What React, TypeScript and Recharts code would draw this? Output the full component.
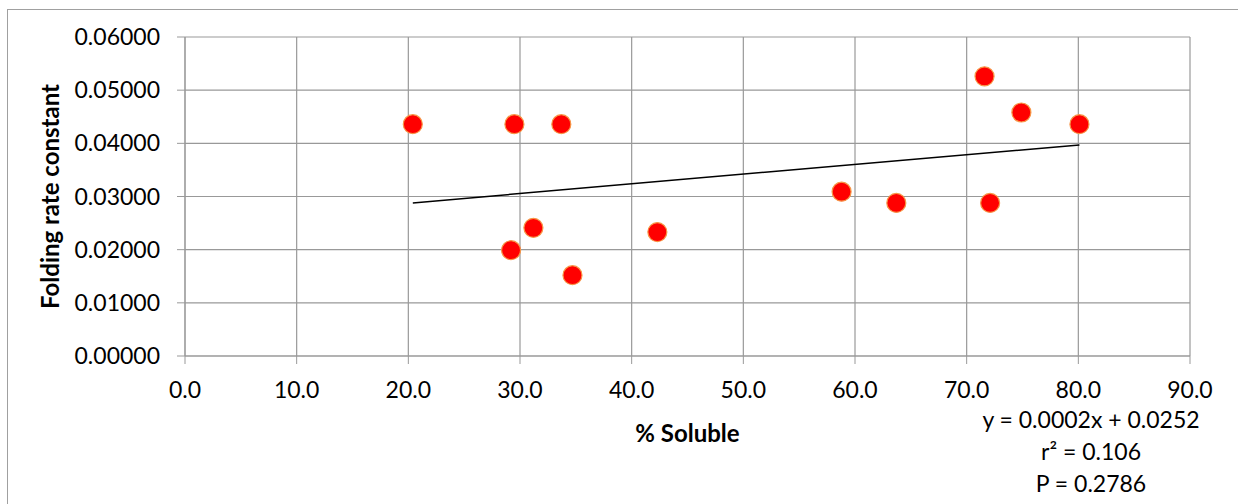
import { ScatterChart, Scatter, XAxis, YAxis, CartesianGrid } from 'recharts'

// measured samples: % soluble vs folding rate constant
const soluble = [20.4, 29.5, 33.7, 29.2, 31.2, 34.7, 42.3, 58.8, 63.7, 71.6, 72.1, 74.9, 80.1]
const foldingRate = [0.0436, 0.0436, 0.0436, 0.0199, 0.0241, 0.0152, 0.0233, 0.0309, 0.0288, 0.0526, 0.0288, 0.0458, 0.0436]

// linear fit drawn between the smallest and largest x
const trendX = [20.4, 80.1]
const trendY = [0.0288, 0.0397]

const xTicks = [0, 10, 20, 30, 40, 50, 60, 70, 80, 90]
const yTicks = [0, 0.01, 0.02, 0.03, 0.04, 0.05, 0.06]

const fitLines = ['y = 0.0002x + 0.0252', 'r² = 0.106', 'P = 0.2786']

const FONT = 'Lato, "Open Sans", sans-serif'
const GRID = '#999999'

const points = soluble.map((x, i) => ({ x, y: foldingRate[i] }))
const trend = trendX.map((x, i) => ({ x, y: trendY[i] }))

const Dot = (props: any) => {
  const { cx, cy } = props
  if (cx == null || cy == null) return <g />
  return <circle cx={cx} cy={cy} r={9.5} fill="#ff0000" stroke="#f79646" strokeWidth={1.2} />
}

export default function App() {
  const tick = { fontSize: 23, fill: '#000', fontFamily: FONT }
  return (
    <div style={{ position: 'absolute', left: 0, top: 0, width: 1238, height: 504, background: '#fff', overflow: 'hidden' }}>
      <div style={{ position: 'absolute', left: 7, top: 9, width: 1300, height: 600, borderLeft: '1px solid #a0a0a0', borderTop: '1px solid #a0a0a0' }} />
      <ScatterChart width={1238} height={504} margin={{ top: 37, right: 48, bottom: 0, left: 0 }} style={{ position: 'absolute', left: 0, top: 0, fontFamily: FONT }}>
        <CartesianGrid stroke={GRID} strokeWidth={1.2} />
        <XAxis
          type="number"
          dataKey="x"
          domain={[0, 90]}
          ticks={xTicks}
          interval={0}
          tickFormatter={(v: number) => v.toFixed(1)}
          tick={tick}
          tickSize={8}
          tickMargin={18}
          stroke={GRID}
          height={148}
          label={(p: any) => {
            const vb = p.viewBox
            return (
              <g>
                <text x={vb.x + vb.width / 2} y={442} textAnchor="middle" fontFamily={FONT} fontWeight="bold" fontSize={24} fill="#000">% Soluble</text>
                {fitLines.map((t, i) => (
                  <text key={t} x={1091} y={428 + i * 32} textAnchor="middle" fontFamily={FONT} fontSize={23} fill="#000">{t}</text>
                ))}
              </g>
            )
          }}
        />
        <YAxis
          type="number"
          dataKey="y"
          domain={[0, 0.06]}
          ticks={yTicks}
          interval={0}
          tickFormatter={(v: number) => v.toFixed(5)}
          tick={tick}
          tickSize={8}
          tickMargin={17}
          stroke={GRID}
          width={185}
          label={(p: any) => {
            const vb = p.viewBox
            const cy = vb.y + vb.height / 2
            return (
              <text x={49} y={cy} transform={`rotate(-90 49 ${cy})`} textAnchor="middle" dominantBaseline="central" fontFamily={FONT} fontWeight="bold" fontSize={24} fill="#000">
                Folding rate constant
              </text>
            )
          }}
        />
        <Scatter data={trend} line={{ stroke: '#000', strokeWidth: 1.5 }} shape={() => <g />} isAnimationActive={false} legendType="none" />
        <Scatter data={points} shape={Dot} isAnimationActive={false} />
      </ScatterChart>
    </div>
  )
}
